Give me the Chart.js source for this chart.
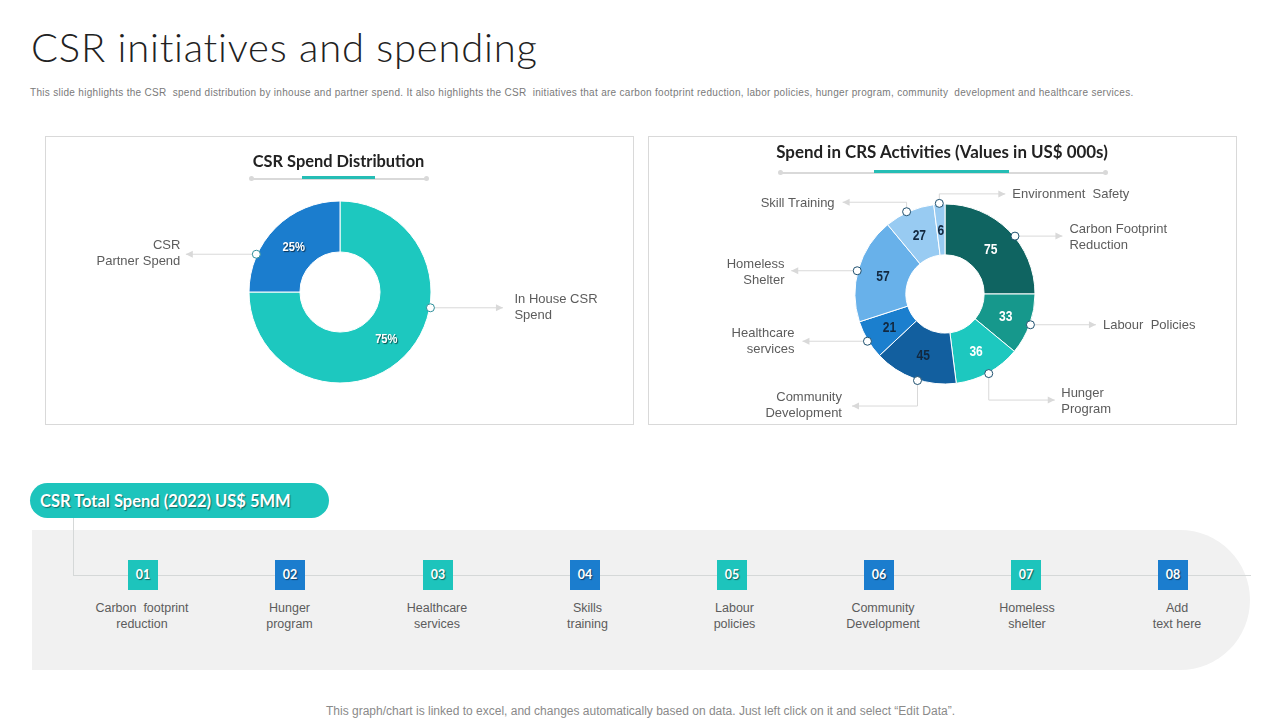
<!DOCTYPE html>
<html><head><meta charset="utf-8">
<script src="https://cdn.jsdelivr.net/npm/chart.js@4"></script>
<style>
html,body{margin:0;padding:0;background:#fff;width:1280px;height:720px;overflow:hidden}
#slide{position:relative;width:1280px;height:720px;font-family:"Liberation Sans",Arial,sans-serif}
#slide>*{position:absolute}
.t{white-space:nowrap}
.title{left:31px;top:24px;font:300 40px/46px Lato,sans-serif;color:#222;letter-spacing:.75px}
.sub{left:30px;top:86px;font-size:10px;line-height:14px;color:#7a7a7a;letter-spacing:.3px;white-space:pre}
.card{border:1px solid #d9d9d9;box-sizing:border-box;background:#fff}
.ct{font:700 17px/22px Lato,sans-serif;color:#222;transform:translateX(-50%)}
.rule{height:1.5px;background:#d9d9d9}
.dot{width:5px;height:5px;border-radius:50%;background:#d9d9d9}
.ac{height:3px;background:#25bdb5}
.band{left:32px;top:530px;width:1218px;height:140px;background:#f1f1f1;border-radius:0 70px 70px 0}
.pill{left:30px;top:483px;width:299px;height:35px;border-radius:17.5px;background:#1dc4bc;color:#fff;font:700 16.5px/37px Lato,sans-serif;text-indent:10px;text-shadow:1px 1px 1px rgba(0,0,0,.45)}
.ln{background:#d5d8d8}
.sq{width:30px;height:30px;top:560px;color:#fff;font:700 12.5px/30px Lato,sans-serif;text-align:center;text-shadow:1px 1px 1px rgba(0,0,0,.5)}
.tl{top:600px;width:140px;text-align:center;color:#5c5c5c;font-size:12.5px;line-height:16px}
.foot{left:326px;top:703px;color:#8a8a8a;font-size:12px;line-height:16px}
canvas{position:absolute}
</style></head>
<body><div id="slide">
<div class="t title">CSR initiatives and spending</div>
<div class="t sub">This slide highlights the CSR  spend distribution by inhouse and partner spend. It also highlights the CSR  initiatives that are carbon footprint reduction, labor policies, hunger program, community  development and healthcare services.</div>

<div class="card" style="left:45px;top:136px;width:589px;height:289px"></div>
<div class="card" style="left:648px;top:136px;width:589px;height:289px"></div>
<canvas id="c1" style="left:45px;top:136px"></canvas>
<canvas id="c2" style="left:648px;top:136px"></canvas>

<div class="t ct" style="left:338.5px;top:150px;font-size:16.4px">CSR Spend Distribution</div>
<div class="rule" style="left:251px;top:178px;width:176px"></div>
<div class="dot" style="left:249px;top:176px"></div><div class="dot" style="left:424px;top:176px"></div>
<div class="ac" style="left:302px;top:176px;width:73px"></div>

<div class="t ct" style="left:942px;top:141px;font-size:16.9px">Spend in CRS Activities (Values in US$ 000s)</div>
<div class="rule" style="left:781px;top:172px;width:325px"></div>
<div class="dot" style="left:778px;top:170px"></div><div class="dot" style="left:1103px;top:170px"></div>
<div class="ac" style="left:874px;top:170px;width:135px"></div>

<div class="band"></div>
<div class="ln" style="left:73px;top:518px;width:1px;height:58px"></div>
<div class="ln" style="left:73px;top:575px;width:1178px;height:1px"></div>
<div class="t pill">CSR Total Spend (2022) US$ 5MM</div>
<div id="timeline" style="left:0;top:0"></div>
<div class="t foot">This graph/chart is linked to excel,  and changes automatically based on data. Just left click on it and select “Edit Data”.</div>
</div>
<script>
const spendCategories = [["In House CSR","Spend"],["CSR","Partner Spend"]];
const spendValues = [75,25];
const spendColors = ["#1dc8bf","#1b7dce"];

const activityCategories = [["Carbon Footprint","Reduction"],["Labour  Policies"],["Hunger","Program"],["Community","Development"],["Healthcare","services"],["Homeless","Shelter"],["Skill Training"],["Environment  Safety"]];
const activityValues = [75,33,36,45,21,57,27,6];
const activityColors = ["#0f6461","#16988c","#1dc8bf","#125f9f","#1b7fce","#68b1ea","#98cbf2","#98cbf2"];
const activityLabelColors = ["#fff","#fff","#fff","#12283f","#12283f","#12283f","#12283f","#12283f"];

const timelineNumbers = ["01","02","03","04","05","06","07","08"];
const timelineLabels = [["Carbon  footprint","reduction"],["Hunger","program"],["Healthcare","services"],["Skills","training"],["Labour","policies"],["Community","Development"],["Homeless","shelter"],["Add","text here"]];

/* layout: where along each slice the callout sits, and its leader segments */
const spendCallouts = [
  {at:.37, path:[[72.5,0]], gap:11.5, dy:0},
  {at:.27, path:[[-70.5,0]], gap:5.5, dy:-1}
];
const activityCallouts = [
  {at:.56, path:[[47.5,0]], gap:7, dy:1},
  {at:.5, path:[[65.5,0]], gap:7, dy:1},
  {at:.5, path:[[0,26.5],[66,0]], gap:6.5, dy:1},
  {at:.46, path:[[0,25.5],[-65.5,0]], gap:10, dy:-1},
  {at:.47, path:[[-65,0]], gap:8, dy:0},
  {at:.48, path:[[-66,0]], gap:6.7, dy:1.5},
  {at:.45, path:[[0,-9.5],[-64,0]], gap:8, dy:1},
  {at:.5, path:[[0,-9.5],[66,0]], gap:7, dy:1}
];
const timelineX = [143,290,438,585,732,879,1026,1173];
const timelineLabelX = [142,289.5,437,587.5,734.5,883,1027,1177];
const timelineColors = ["#1dc4bc","#1b7dce"];

const tl = document.getElementById('timeline');
timelineNumbers.forEach((n,i)=>{
  const s=document.createElement('div');
  s.className='sq'; s.style.cssText='position:absolute;left:'+(timelineX[i]-15)+'px;background:'+timelineColors[i%2];
  s.textContent=n; tl.appendChild(s);
  const t=document.createElement('div');
  t.className='tl'; t.style.cssText='position:absolute;left:'+(timelineLabelX[i]-70)+'px;white-space:pre';
  t.textContent=timelineLabels[i].join('\n'); tl.appendChild(t);
});

const calloutPlugin = {
  id:'callouts',
  afterDatasetsDraw(chart,args,o){
    const ctx=chart.ctx, meta=chart.getDatasetMeta(0);
    ctx.save();
    meta.data.forEach((arc,i)=>{
      /* value label at the ring middle */
      const p=arc.getProps(['x','y','startAngle','endAngle','innerRadius','outerRadius'],true);
      const mid=(p.startAngle+p.endAngle)/2, rm=(p.innerRadius+p.outerRadius)/2;
      ctx.save();
      ctx.font='700 '+o.valueFont+'px "Liberation Sans",sans-serif';
      ctx.textAlign='center';ctx.textBaseline='middle';
      ctx.fillStyle=o.valueColors[i];
      if(o.valueShadow){ctx.shadowColor='rgba(0,0,0,.6)';ctx.shadowOffsetX=1;ctx.shadowOffsetY=1;ctx.shadowBlur=1;}
      ctx.translate(p.x+Math.cos(mid)*rm,p.y+Math.sin(mid)*rm+1.5);
      ctx.scale(.86,1);
      ctx.fillText(chart.data.datasets[0].data[i]+o.suffix,0,0);
      ctx.restore();

      /* callout */
      const c=o.callouts[i];
      const a=p.startAngle+(p.endAngle-p.startAngle)*c.at, R=p.outerRadius+0.8;
      const ax=p.x+Math.cos(a)*R, ay=p.y+Math.sin(a)*R;
      let x=ax,y=ay;
      ctx.strokeStyle='#d9d9d9';ctx.lineWidth=1;ctx.beginPath();ctx.moveTo(x,y);
      c.path.forEach(s=>{x+=s[0];y+=s[1];ctx.lineTo(x,y);});
      ctx.stroke();
      const last=c.path[c.path.length-1], dir=Math.sign(last[0]);
      ctx.fillStyle='#d9d9d9';ctx.beginPath();
      ctx.moveTo(x,y);ctx.lineTo(x-dir*7,y-3.5);ctx.lineTo(x-dir*7,y+3.5);ctx.closePath();ctx.fill();
      ctx.beginPath();ctx.arc(ax,ay,4,0,Math.PI*2);ctx.fillStyle='#fff';ctx.fill();
      ctx.strokeStyle=o.ringColor;ctx.lineWidth=1;ctx.stroke();

      const lines=chart.data.labels[i];
      ctx.fillStyle='#5c5c5c';ctx.font='13px "Liberation Sans",sans-serif';
      ctx.textAlign=dir>0?'left':'right';ctx.textBaseline='middle';
      const top=y+c.dy-(lines.length-1)*8;
      lines.forEach((l,k)=>ctx.fillText(l,x+dir*c.gap,top+k*16));
    });
    ctx.restore();
  }
};

function donut(id,labels,values,colors,padding,cutout,opts){
  const el=document.getElementById(id);
  el.width=589;el.height=289;el.style.width='589px';el.style.height='289px';
  return new Chart(el,{
    type:'doughnut',
    data:{labels:labels,datasets:[{data:values,backgroundColor:colors,borderColor:'#fff',borderWidth:1}]},
    options:{responsive:false,animation:false,cutout:cutout,layout:{padding:padding},
      plugins:{legend:{display:false},tooltip:{enabled:false},title:{display:false},callouts:opts}},
    plugins:[calloutPlugin]
  });
}
donut('c1',spendCategories,spendValues,spendColors,{top:64.5,bottom:41.5,left:1,right:0},'44%',
  {callouts:spendCallouts,valueFont:13,suffix:'%',valueColors:["#fff","#fff"],valueShadow:true,ringColor:'#2e8f9a'});
donut('c2',activityCategories,activityValues,activityColors,{top:67.5,bottom:40.5,left:5,right:0},'43.5%',
  {callouts:activityCallouts,valueFont:14,suffix:'',valueColors:activityLabelColors,valueShadow:false,ringColor:'#1d4f6e'});
</script>
</body></html>
